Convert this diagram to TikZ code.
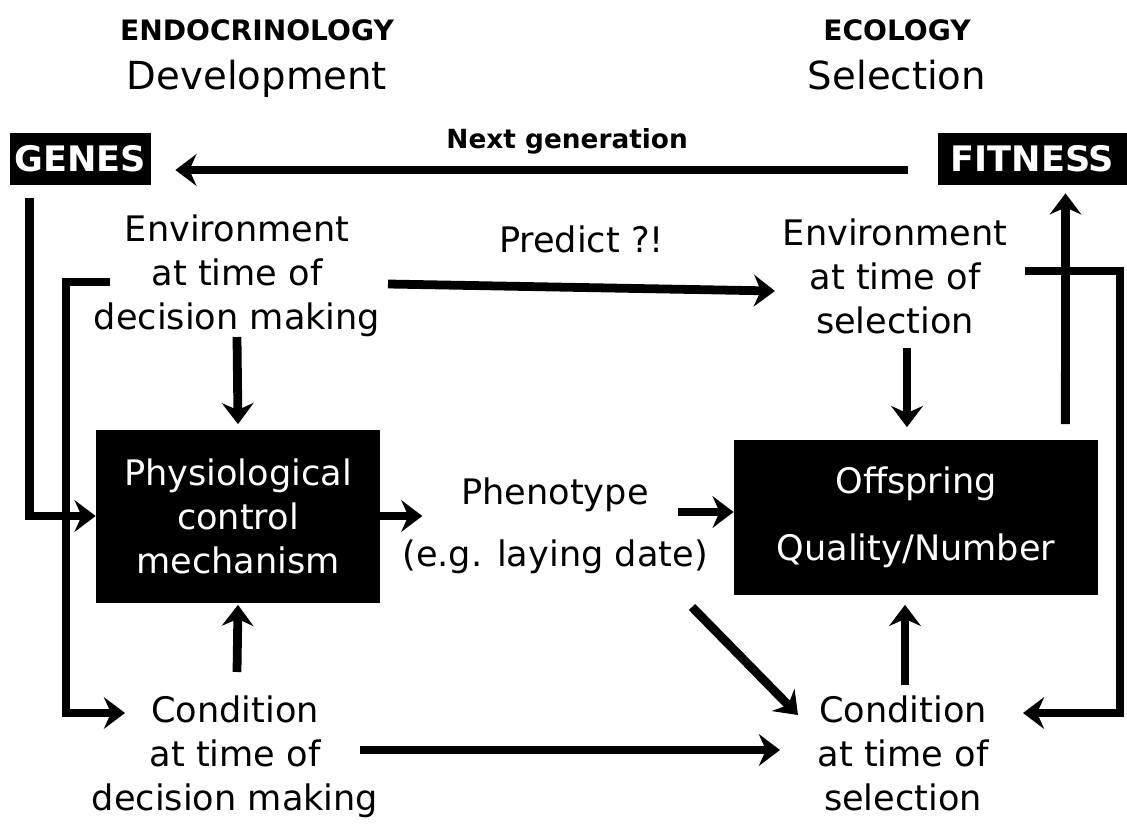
\documentclass[tikz,border=0pt]{standalone}
\usepackage{fontspec}
\setmainfont{DejaVu Sans}
\usetikzlibrary{calc,arrows.meta}

\begin{document}
\begin{tikzpicture}[x=0.02cm,y=-0.02cm,>={Stealth[length=12pt,width=18pt,inset=4pt]},
  arr/.style={->,line width=5pt},
  body/.style={align=center,inner sep=0pt,font=\fontsize{20}{25}\selectfont},
  headsmall/.style={inner sep=0pt,anchor=base,font=\fontsize{16}{19}\selectfont\bfseries},
  headbig/.style={inner sep=0pt,anchor=base,font=\fontsize{22}{26}\selectfont},
  darkbox/.style={fill=black,text=white,inner sep=0pt,align=center},
  tagbox/.style={darkbox,minimum height=52*0.02cm,font=\fontsize{20}{24}\selectfont\bfseries}]

\useasboundingbox (0,0) rectangle (1127,825);

% ----- column titles -----
\node[headsmall] (endo) at (257,40) {ENDOCRINOLOGY};
\node[headbig]   (devel) at (257,89) {Development};
\node[headsmall] (eco) at (897,40) {ECOLOGY};
\node[headbig]   (selec) at (897,89) {Selection};

% ----- black boxes -----
\node[tagbox,minimum width=141*0.02cm] (genes) at (80.5,159) {GENES};
\node[tagbox,minimum width=189*0.02cm] (fitness) at (1032.5,159) {FITNESS};

\node[darkbox,minimum width=284*0.02cm,minimum height=173*0.02cm,
  font=\fontsize{20}{25}\selectfont] (phys) at (238,516)
  {Physiological\\control\\mechanism};
\node[darkbox,minimum width=364*0.02cm,minimum height=155*0.02cm,
  font=\fontsize{20}{25}\selectfont] (offspring) at (916,517)
  {Offspring\\[13pt]Quality/Number};

% ----- plain text nodes -----
\node[body] (envdec) at (237,276) {Environment\\at time of\\decision making};
\node[body] (envsel) at (895,276) {Environment\\at time of\\selection};
\node[body] (pheno) at (555,526) {Phenotype\\[10pt](e.g. laying date)};
\node[body] (conddec) at (235,757) {Condition\\at time of\\decision making};
\node[body] (condsel) at (903,753) {Condition\\at time of\\selection};

% ----- top: next generation -----
\draw[arr] ($(fitness.west)+(-30,11)$) -- ($(genes.east)+(24,11)$)
  node[pos=0.465,above=3pt,font=\fontsize{15}{18}\selectfont\bfseries] (nextgen) {Next generation};

% genes feed the control mechanism
\draw[arr] ($(genes.south west)+(20,13)$) |- (phys.west);

% environment (decision) links
\draw[arr] ($(envdec)+(-127,6)$) -- ++(-44,0) |- ($(conddec)+(-110,-44)$);
\draw[arr] ($(envdec)+(0,61)$) -- ($(phys.north)+(0,-5)$);
\draw[arr] ($(envdec)+(151,8)$) -- ($(envsel)+(-120,15)$)
  node[midway,above=14pt,font=\fontsize{20}{25}\selectfont] (predict) {Predict ?!};

% environment (selection) links
\draw[arr] ($(envsel)+(130,-5)$) -- ++(95,0) |- ($(condsel)+(120,-40)$);
\draw[arr] ($(envsel)+(12,72)$) -- ($(offspring.north)+(-9,-12)$);

% middle row
\draw[arr] (phys.east) -- ++(42,0);
\draw[arr] ($(pheno)+(123,-14)$) -- ($(offspring.west)+(0,-5)$);
\draw[arr] ($(pheno)+(137,81)$) -- ($(condsel)+(-105,-38)$);

% fitness
\draw[arr] ($(offspring.north east)+(-33,-15)$) -- ($(fitness.south)+(33,8)$);

% condition links
\draw[arr] ($(conddec)+(2,-85)$) -- ($(phys.south)+(0,2)$);
\draw[arr] ($(conddec)+(125,-7)$) -- ($(condsel)+(-123,-3)$);
\draw[arr] ($(condsel)+(2,-68)$) -- ($(offspring.south)+(-11,10)$);

\end{tikzpicture}
\end{document}
